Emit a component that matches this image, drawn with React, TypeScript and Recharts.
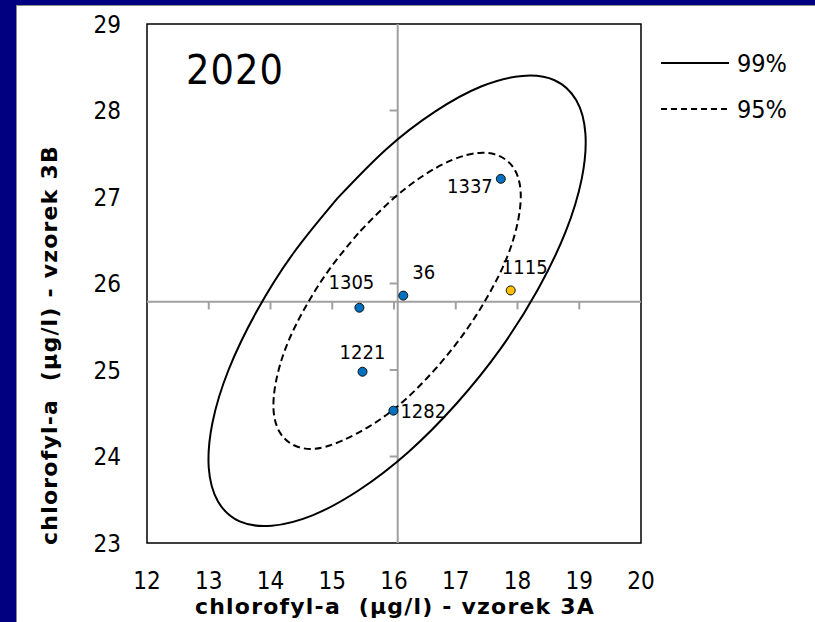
import {
  Legend,
  ReferenceArea,
  ReferenceLine,
  Scatter,
  ScatterChart,
  XAxis,
  YAxis,
} from "recharts";

const FONT = "'DejaVu Sans Condensed', 'DejaVu Sans', sans-serif";
const TITLE_FONT = "'DejaVu Sans', sans-serif";

// laboratories and their results (µg/l)
const labIds = ["1337", "1115", "36", "1305", "1221", "1282"];
const vzorek3A = [17.73, 17.89, 16.15, 15.44, 15.49, 15.99];
const vzorek3B = [27.21, 25.92, 25.86, 25.72, 24.98, 24.53];
const flaggedLabs = ["1115"];

const xTicks = [12, 13, 14, 15, 16, 17, 18, 19, 20];
const yTicks = [23, 24, 25, 26, 27, 28, 29];

// where the two grey axes cross
const cross3A = 16.06;
const cross3B = 25.79;
const crossTicks3A = [13, 14, 15, 16, 17, 18, 19];
const crossTicks3B = [24, 25, 26, 27, 28];

// ellipse outlines
const ellipse99X = [
  15.09, 14.37, 13.77, 13.32, 13.06, 13.0, 13.15, 13.5, 14.02, 14.68, 15.43,
  16.23, 17.01, 17.73, 18.33, 18.78, 19.04, 19.1, 18.95, 18.6, 18.08, 17.42,
  16.67, 15.87, 15.09,
];
const ellipse99Y = [
  26.99, 26.35, 25.67, 25.0, 24.39, 23.87, 23.48, 23.25, 23.2, 23.32, 23.61,
  24.05, 24.61, 25.25, 25.93, 26.6, 27.21, 27.73, 28.12, 28.35, 28.4, 28.28,
  27.99, 27.55, 26.99,
];
const ellipse95X = [
  15.42, 14.95, 14.56, 14.26, 14.09, 14.05, 14.15, 14.38, 14.72, 15.15, 15.65,
  16.17, 16.68, 17.15, 17.54, 17.84, 18.01, 18.05, 17.95, 17.72, 17.38, 16.95,
  16.46, 15.94, 15.42,
];
const ellipse95Y = [
  26.58, 26.16, 25.72, 25.28, 24.87, 24.53, 24.28, 24.13, 24.09, 24.18, 24.37,
  24.65, 25.02, 25.44, 25.88, 26.32, 26.73, 27.07, 27.32, 27.47, 27.51, 27.43,
  27.24, 26.95, 26.58,
];

const labData = labIds.map((id, i) => ({
  id,
  x: vzorek3A[i],
  y: vzorek3B[i],
  flagged: flaggedLabs.includes(id),
}));
const outer = ellipse99X.map((x, i) => ({ x, y: ellipse99Y[i] }));
const inner = ellipse95X.map((x, i) => ({ x, y: ellipse95Y[i] }));

const labelPlace: Record<string, { dx: number; dy: number; anchor: string }> = {
  "1337": { dx: -8, dy: 7, anchor: "end" },
  "1115": { dx: 14, dy: -23, anchor: "middle" },
  "36": { dx: 9, dy: -24, anchor: "start" },
  "1305": { dx: -8, dy: -26, anchor: "middle" },
  "1221": { dx: 0, dy: -20, anchor: "middle" },
  "1282": { dx: 7, dy: 0, anchor: "start" },
};

const legendOrder = ["99%", "95%"];
const legendDash: Record<string, string | undefined> = {
  "99%": undefined,
  "95%": "6 4",
};

function LabPoint(props: any) {
  const { cx, cy, payload } = props;
  const place = labelPlace[payload.id];
  return (
    <g>
      <circle
        cx={cx}
        cy={cy}
        r={4.5}
        fill={payload.flagged ? "#FFC000" : "#0070C0"}
        stroke="#111"
        strokeWidth={1}
      />
      <text
        x={cx + place.dx}
        y={cy + place.dy}
        textAnchor={place.anchor as any}
        dominantBaseline="central"
        fontSize={20}
        fontFamily={FONT}
        fill="#000"
      >
        {payload.id}
      </text>
    </g>
  );
}

function renderLegend(props: any) {
  const entries = props.payload || [];
  const items = legendOrder
    .map((name) => entries.find((p: any) => p.value === name))
    .filter(Boolean);
  return (
    <div style={{ fontFamily: FONT, fontSize: 25, color: "#000" }}>
      {items.map((p: any) => (
        <div
          key={p.value}
          style={{ display: "flex", alignItems: "center", height: 46 }}
        >
          <svg width={76} height={10}>
            <line
              x1={0}
              y1={5}
              x2={68}
              y2={5}
              stroke="#000"
              strokeWidth={2}
              strokeDasharray={legendDash[p.value]}
            />
          </svg>
          <span>{p.value}</span>
        </div>
      ))}
    </div>
  );
}

export default function App() {
  return (
    <div
      style={{
        position: "fixed",
        left: 0,
        top: 0,
        width: 815,
        height: 622,
        background: "#000080",
        overflow: "hidden",
      }}
    >
      <div
        style={{
          position: "absolute",
          left: 16,
          top: 5,
          right: 0,
          bottom: 0,
          background: "#fff",
          borderLeft: "1px solid #8a8a8a",
          borderTop: "1px solid #8a8a8a",
        }}
      />
      <div style={{ position: "absolute", left: 0, top: 0 }}>
        <ScatterChart
          width={815}
          height={622}
          margin={{ top: 24, right: 174, bottom: 0, left: 0 }}
        >
          <XAxis
            type="number"
            dataKey="x"
            domain={[12, 20]}
            ticks={xTicks}
            interval={0}
            height={79}
            axisLine={false}
            tickLine={false}
            tickSize={0}
            tickMargin={29}
            tick={{ fill: "#000", fontSize: 24, fontFamily: FONT }}
            label={() => (
              <text
                x={395}
                y={606}
                textAnchor="middle"
                dominantBaseline="central"
                fontSize={22}
                fontWeight="bold"
                fontFamily={TITLE_FONT}
                letterSpacing={1.2}
                xmlSpace="preserve"
                fill="#000"
              >
                {"chlorofyl-a  (µg/l) - vzorek 3A"}
              </text>
            )}
          />
          <YAxis
            type="number"
            dataKey="y"
            domain={[23, 29]}
            ticks={yTicks}
            interval={0}
            width={147}
            axisLine={false}
            tickLine={false}
            tickSize={0}
            tickMargin={26}
            tick={{ fill: "#000", fontSize: 24, fontFamily: FONT }}
            label={() => (
              <text
                x={49}
                y={345}
                transform="rotate(-90 49 345)"
                textAnchor="middle"
                dominantBaseline="central"
                fontSize={22}
                fontWeight="bold"
                fontFamily={TITLE_FONT}
                letterSpacing={1.2}
                xmlSpace="preserve"
                fill="#000"
              >
                {"chlorofyl-a  (µg/l) - vzorek 3B"}
              </text>
            )}
          />
          <ReferenceLine x={cross3A} stroke="#a0a0a0" strokeWidth={2} />
          <ReferenceLine y={cross3B} stroke="#a0a0a0" strokeWidth={2} />
          {crossTicks3A.map((t) => (
            <ReferenceLine
              key={"tx" + t}
              segment={[
                { x: t, y: cross3B },
                { x: t, y: cross3B - 0.09 },
              ]}
              stroke="#a0a0a0"
              strokeWidth={2}
            />
          ))}
          {crossTicks3B.map((t) => (
            <ReferenceLine
              key={"ty" + t}
              segment={[
                { x: cross3A, y: t },
                { x: cross3A - 0.13, y: t },
              ]}
              stroke="#a0a0a0"
              strokeWidth={2}
            />
          ))}
          <ReferenceArea
            x1={12}
            x2={20}
            y1={23}
            y2={29}
            fill="none"
            stroke="#000"
            strokeWidth={1.5}
          />
          <Scatter
            name="99%"
            data={outer}
            line={{ stroke: "#000", strokeWidth: 2 }}
            lineJointType="natural"
            shape={() => <g />}
            legendType="line"
            isAnimationActive={false}
          />
          <Scatter
            name="95%"
            data={inner}
            line={{ stroke: "#000", strokeWidth: 2, strokeDasharray: "7 4" }}
            lineJointType="natural"
            shape={() => <g />}
            legendType="line"
            isAnimationActive={false}
          />
          <Scatter
            name="labs"
            data={labData}
            shape={LabPoint}
            legendType="none"
            isAnimationActive={false}
          />
          <Legend
            layout="horizontal"
            verticalAlign="middle"
            align="center"
            content={renderLegend}
            wrapperStyle={{ left: 661, top: 40, width: 154 }}
          />
        </ScatterChart>
      </div>
      <div
        style={{
          position: "absolute",
          left: 186,
          top: 47,
          fontFamily: FONT,
          fontSize: 41,
          letterSpacing: 1,
          lineHeight: "46px",
          color: "#000",
        }}
      >
        2020
      </div>
    </div>
  );
}
